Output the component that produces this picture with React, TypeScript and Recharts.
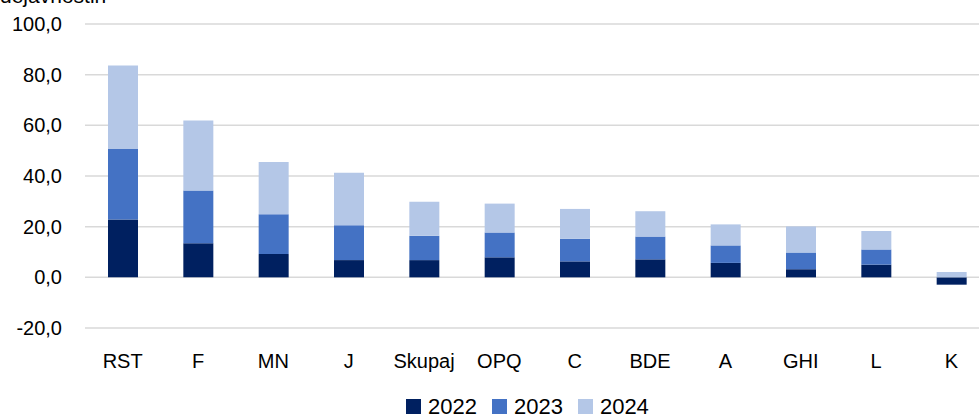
import { BarChart, Bar, XAxis, YAxis, CartesianGrid } from "recharts";

// Prispevki k rasti po dejavnostih, 2022–2024
const CATEGORIES = ["RST", "F", "MN", "J", "Skupaj", "OPQ", "C", "BDE", "A", "GHI", "L", "K"];
const Y2022 = [22.8, 13.5, 9.2, 6.8, 6.8, 7.9, 6.3, 7.1, 5.7, 3.2, 5.0, -2.9];
const Y2023 = [27.9, 20.8, 15.7, 13.8, 9.6, 9.8, 8.9, 9.0, 6.9, 6.6, 6.0, 0.0];
const Y2024 = [32.9, 27.6, 20.6, 20.7, 13.4, 11.4, 11.8, 10.0, 8.3, 10.3, 7.3, 2.1];
const Y_TICKS = [-20, 0, 20, 40, 60, 80, 100];

const SERIES = [
  { key: "y2022", name: "2022", color: "#002060" },
  { key: "y2023", name: "2023", color: "#4472C4" },
  { key: "y2024", name: "2024", color: "#B4C7E7" },
];

const data = CATEGORIES.map((name, i) => ({
  name,
  y2022: Y2022[i],
  y2023: Y2023[i],
  y2024: Y2024[i],
}));

const FONT = "'Liberation Sans', Arial, sans-serif";
const fmt = (v: number) => v.toFixed(1).replace(".", ",");

function LegendRow() {
  return (
    <div
      style={{
        position: "absolute",
        left: 406,
        top: 394,
        display: "flex",
        fontFamily: FONT,
        fontSize: 22,
        lineHeight: "25px",
        color: "#000",
      }}
    >
      {SERIES.map((s) => (
        <div key={s.key} style={{ display: "flex", alignItems: "center", marginRight: 15 }}>
          <span style={{ width: 15, height: 15, background: s.color, marginRight: 7 }} />
          <span>{s.name}</span>
        </div>
      ))}
    </div>
  );
}

export default function App() {
  return (
    <div
      style={{
        position: "fixed",
        top: 0,
        left: 0,
        width: 979,
        height: 419,
        overflow: "hidden",
        background: "#fff",
      }}
    >
      <BarChart
        width={1000}
        height={419}
        data={data}
        stackOffset="sign"
        margin={{ top: 24, right: 11, bottom: 61, left: 0 }}
        barSize={30}
      >
        <text x={0} y={3} fontFamily={FONT} fontSize={21} fill="#000">
          dejavnostih
        </text>
        <CartesianGrid vertical={false} stroke="#d9d9d9" strokeWidth={1.5} />
        <XAxis
          dataKey="name"
          height={30}
          axisLine={false}
          tickLine={false}
          tickSize={0}
          tickMargin={26}
          interval={0}
          tick={{ fontFamily: FONT, fontSize: 20, fill: "#000" }}
        />
        <YAxis
          width={85}
          domain={[-20, 100]}
          ticks={Y_TICKS}
          axisLine={false}
          tickLine={false}
          tickSize={0}
          tickMargin={23}
          tickFormatter={fmt}
          tick={{ fontFamily: FONT, fontSize: 20, fill: "#000" }}
        />
        {SERIES.map((s) => (
          <Bar
            key={s.key}
            dataKey={s.key}
            name={s.name}
            stackId="a"
            fill={s.color}
            isAnimationActive={false}
          />
        ))}
      </BarChart>
      <LegendRow />
    </div>
  );
}
